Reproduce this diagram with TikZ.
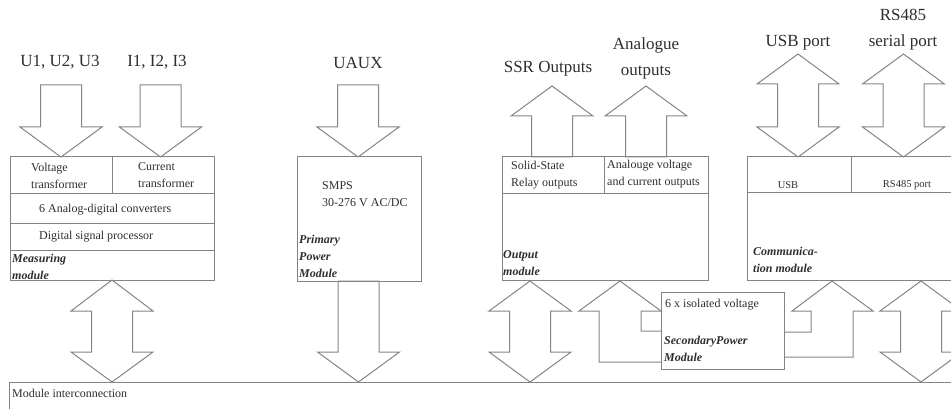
\documentclass[tikz,border=0pt]{standalone}
\usepackage{fontspec}
\setmainfont{Liberation Serif}
\definecolor{lncol}{HTML}{848484}
\definecolor{txcol}{HTML}{2E2E2E}
\newcommand\blkarrow[4]{% cx, shaft end, head base, tip
  \draw[ln] ({#1-20.5},#2) -- ({#1+20.5},#2) -- ({#1+20.5},#3) -- ({#1+41},#3) -- (#1,#4) -- ({#1-41},#3) -- ({#1-20.5},#3) -- cycle;}
\newcommand\blkdbl[5]{% cx, tip1, base1, base2, tip2
  \draw[ln] (#1,#2) -- ({#1+41},#3) -- ({#1+20.5},#3) -- ({#1+20.5},#4) -- ({#1+41},#4) -- (#1,#5) -- ({#1-41},#4) -- ({#1-20.5},#4) -- ({#1-20.5},#3) -- ({#1-41},#3) -- cycle;}
\tikzset{
  ln/.style={draw=lncol, line width=1pt, line join=miter},
  big/.style={text=txcol, inner sep=0pt, align=center, font=\fontsize{17}{26}\selectfont},
  sm/.style={text=txcol, inner sep=0pt, align=left, font=\fontsize{12}{17}\selectfont},
  smc/.style={text=txcol, inner sep=0pt, align=center, font=\fontsize{10.5}{14}\selectfont},
  bi/.style={text=txcol, inner sep=0pt, align=left, font=\fontsize{12}{17}\selectfont\bfseries\itshape},
}
\begin{document}
\begin{tikzpicture}[x=1pt,y=-1pt]
\useasboundingbox (0,0) rectangle (951,409);
\clip (0,0) rectangle (951,409);
% ---------- boxes ----------
\draw[ln] (10,157) rectangle (214,280);
\draw[ln] (10,194) -- (214,194) (10,223) -- (214,223) (10,250) -- (214,250) (112,157) -- (112,194);
\draw[ln] (297,157) rectangle (421,281);
\draw[ln] (502,157) rectangle (708,280);
\draw[ln] (502,194) -- (708,194) (604,157) -- (604,194);
\draw[ln] (747,157) rectangle (960,280);
\draw[ln] (747,193) -- (960,193) (851,157) -- (851,193);
\draw[ln] (661,292) rectangle (784,369);
\draw[ln] (9,382) rectangle (960,420);
% ---------- arrows ----------
\blkarrow{61}{85}{127}{157}
\blkarrow{160.5}{85}{127}{157}
\blkarrow{358}{85}{127}{157}
\blkarrow{552}{157}{116}{86}
\blkarrow{646}{157}{116}{86}
\blkdbl{798}{54}{84}{127}{157}
\blkdbl{903.5}{54}{84}{127}{157}
\blkdbl{112}{280}{311}{352}{382}
\blkarrow{358.5}{281}{352}{382}
\blkdbl{530}{281}{311}{352}{382}
\blkdbl{921}{281}{311}{352}{382}
\draw[ln] (661,362) -- (599,362) -- (599,311) -- (579,311) -- (620,281) -- (661,311) -- (641,311) -- (641,331) -- (661,331);
\draw[ln] (784,332) -- (811,332) -- (811,311) -- (792,311) -- (832,281) -- (873,311) -- (853,311) -- (853,357) -- (784,357);
% ---------- big labels ----------
\node[big] (lu) at (60,62) {U1, U2, U3};
\node[big] (li) at (157,62) {I1, I2, I3};
\node[big] (lx) at (358,63) {UAUX};
\node[big] (lssr) at (548,69) {SSR Outputs};
\node[big] (lana) at (646,58) {Analogue\\outputs};
\node[big] (lusb) at (798,43) {USB port};
\node[big] (lrs) at (903,30) {RS485\\serial port};
% ---------- measuring module ----------
\node[sm, anchor=west] (vt) at (31,175.5) {Voltage\\transformer};
\node[sm, anchor=west] (ct) at (138,175.5) {Current\\transformer};
\node[sm, anchor=west] (adc) at (39,210) {6 Analog-digital converters};
\node[sm, anchor=west] (dsp) at (39,237) {Digital signal processor};
\node[bi, anchor=west] (mm) at (12,266.5) {Measuring\\module};
% ---------- primary power ----------
\node[sm, anchor=west] (smps) at (322,194.5) {SMPS\\30-276 V AC/DC};
\node[bi, anchor=west] (ppm) at (299,256.5) {Primary\\Power\\Module};
% ---------- output module ----------
\node[sm, anchor=west] (ssr) at (511,175.5) {Solid-State\\Relay outputs};
\node[sm, anchor=west] (aout) at (607,174.5) {Analouge voltage\\and current outputs};
\node[bi, anchor=west] (om) at (503,263.5) {Output\\module};
% ---------- communication module ----------
\node[smc] (usb) at (788,185) {USB};
\node[smc] (rs) at (907,185) {RS485 port};
\node[bi, anchor=west] (cm) at (753,259.5) {Communica-\\tion module};
% ---------- secondary power ----------
\node[sm, anchor=west] (iso) at (665,305) {6 x isolated voltage};
\node[bi, anchor=west] (spm) at (664,349) {SecondaryPower\\Module};
% ---------- interconnection ----------
\node[sm, anchor=west] (mi) at (12,393) {Module interconnection};
\end{tikzpicture}
\end{document}
